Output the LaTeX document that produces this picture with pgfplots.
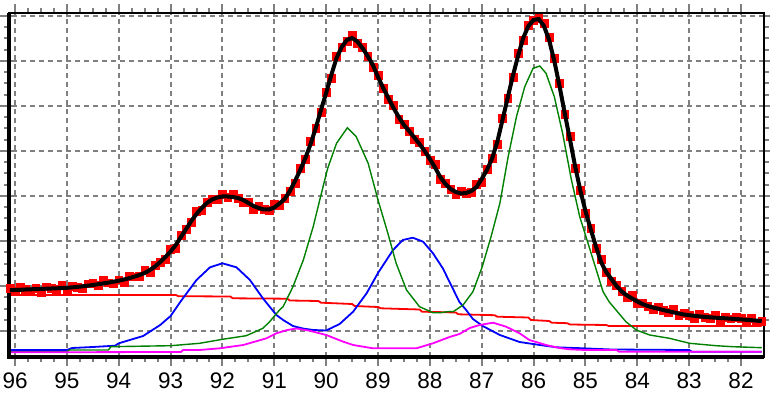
\documentclass[border=0pt]{standalone}
\usepackage{pgfplots}
\pgfplotsset{compat=1.18}
\usepackage{fontspec}
\setmainfont{Liberation Sans}
\definecolor{cblue}{RGB}{0,0,255}
\definecolor{cgreen}{RGB}{0,128,0}
\definecolor{cmag}{RGB}{255,0,255}
\definecolor{cred}{RGB}{255,0,0}
\definecolor{cgrid}{RGB}{128,128,128}
\begin{document}
\begin{tikzpicture}
\begin{axis}[
  set layers,
  scale only axis, width=754.5pt, height=343.7pt,
  at={(0,0)}, anchor=south west,
  x dir=reverse, xmin=81.566, xmax=96.116,
  ymin=19, ymax=362.7,
  xtick={82,83,...,96}, minor x tick num=3,
  ytick={45,90,...,360}, minor y tick num=3, yticklabels={},
  grid=major,
  major grid style={cgrid, line width=2pt, dash pattern=on 5pt off 4pt},
  tick align=outside, major tick length=9pt, minor tick length=5pt,
  tick style={cgrid, line width=2pt},
  /pgf/number format/assume math mode=true,
  xticklabel style={font=\fontsize{22.5}{24}\selectfont, text=black, yshift=-3pt},
  axis line style={line width=2pt, black},
  clip=false,
]
% measured data
\addplot[only marks, mark=square*, mark size=3.9pt, cred, mark options={draw=cred, fill=cred}] coordinates {
(96.1,88)(96.0,85)(95.9,89)(95.8,86.5)(95.7,84.7)(95.6,88)(95.5,84)(95.4,89.3)(95.3,87.5)(95.2,86.7)
(95.1,91)(95.0,86.2)(94.9,89.6)(94.8,89.1)(94.7,87.7)(94.6,92.3)(94.5,93)(94.4,90.8)(94.3,95.6)(94.2,93.4)
(94.1,92.3)(94.0,96.3)(93.9,93.5)(93.8,99.8)(93.7,99.3)(93.6,100)(93.5,106)(93.4,104)(93.3,110.5)(93.2,114)
(93.1,117)(93.0,126.5)(92.9,128)(92.8,141)(92.7,147)(92.6,154)(92.5,165)(92.4,166)(92.3,174)(92.2,176.5)
(92.1,176.5)(92.0,181.5)(91.9,178.5)(91.8,182)(91.7,178)(91.6,174)(91.5,174)(91.4,167)(91.3,170)(91.2,166.5)
(91.1,165.5)(91.0,171.5)(90.9,170.5)(90.8,178)(90.7,185)(90.6,193)(90.5,208)(90.4,217)(90.3,235)(90.2,248)
(90.1,264)(90.0,284)(89.9,298)(89.8,320)(89.7,329)(89.6,335)(89.5,341)(89.4,332.5)(89.3,329)(89.2,320)
(89.1,309)(89.0,301)(88.9,288)(88.8,277)(88.7,271)(88.6,257)(88.5,252)(88.4,245)(88.3,236.5)(88.2,234)
(88.1,225)(88.0,216)(87.9,211.5)(87.8,197)(87.7,193)(87.6,187)(87.5,182)(87.4,184.5)(87.3,183)(87.2,184)
(87.1,192)(87.0,194)(86.9,207)(86.8,217.5)(86.7,232)(86.6,258)(86.5,278)(86.4,299)(86.3,323)(86.2,336)
(86.1,351)(86.0,356)(85.9,358)(85.8,353)(85.7,339)(85.6,318)(85.5,293)(85.4,262)(85.3,240)(85.2,208)
(85.1,186)(85.0,163)(84.9,148)(84.8,128)(84.7,117)(84.6,104)(84.5,95)(84.4,91)(84.3,84.5)(84.2,78.5)
(84.1,80.5)(84.0,72.5)(83.9,73)(83.8,70)(83.7,66.5)(83.6,69.3)(83.5,66)(83.4,63.8)(83.3,66.6)(83.2,60.5)
(83.1,62.5)(83.0,60.8)(82.9,58.2)(82.8,61.6)(82.7,59.1)(82.6,57.7)(82.5,61.3)(82.4,56)(82.3,58.7)(82.2,57.3)
(82.1,59)(82.0,58)(81.9,55.2)(81.8,57.8)(81.7,53.4)(81.6,55)
};
% baseline
\addplot[cred, line width=1.8pt] coordinates {
(96.1,81)(92.9,81)(92.85,79.8)(91.85,79.5)(91.8,77.7)(90.75,77.3)(90.7,75.5)(90.15,75)(90.1,73.3)
(89.5,72)(89.45,70)(89.0,69)(88.95,67.7)(88.2,66.5)(88.15,64.3)(87.5,63.5)(87.45,61.7)(86.75,60.8)
(86.7,59.3)(86.1,58.5)(86.05,56)(85.7,55)(85.65,53.3)(85.35,52.8)(85.3,51.5)(84.6,51)(84.55,50)(81.6,50)
};
% blue component
\addplot[cblue, line width=1.8pt] coordinates {
(96.1,26)(95.0,26)(94.9,28)(94.5,29)(94.07,30.3)(94.0,32.7)(93.53,40)(93.2,51)(93.0,60)(92.8,75)
(92.5,96)(92.24,108.7)(92.0,112.7)(91.73,108.7)(91.47,96)(91.22,77.7)(90.96,61)(90.83,56)(90.64,50)
(90.45,47.5)(90.25,46)(90.0,45.5)(89.74,52)(89.48,64.3)(89.22,82.7)(89.0,103)(88.71,126)(88.52,136)
(88.33,138.3)(88.13,134.3)(87.94,122.7)(87.75,107.7)(87.62,94)(87.43,74)(87.3,66)(87.17,57)(86.98,50)
(86.65,41)(86.27,34)(85.88,31)(85.56,28.7)(85.04,27.7)(84.5,26.5)(83.0,26)(82.95,24.3)(81.6,24.3)
};
% green component
\addplot[cgreen, line width=1.4pt] coordinates {
(96.1,24.3)(95.0,24.3)(94.95,26)(94.2,26)(94.15,29.3)(93.0,30.3)(92.44,32.7)(92.0,36.7)(91.54,40.3)
(91.22,47.7)(91.09,54.3)(90.9,66)(90.83,69.3)(90.64,89.3)(90.44,116)(90.25,149.3)(90.06,189.3)
(89.97,207.7)(89.8,232.7)(89.59,248.3)(89.42,239.3)(89.19,212.7)(89.0,176)(88.81,142.7)(88.65,112.7)
(88.45,86)(88.2,69.3)(87.94,63.3)(87.81,63.3)(87.62,64.5)(87.55,64.3)(87.36,71)(87.17,84.3)(86.99,109.3)
(86.82,139.3)(86.65,172.7)(86.49,219.3)(86.33,259.3)(86.17,289.3)(86.01,307.7)(85.88,310)(85.76,302.7)
(85.6,279.3)(85.44,242.7)(85.27,196)(85.11,159.3)(84.95,132.7)(84.79,106)(84.66,84.3)(84.54,74)
(84.41,66)(84.22,54.3)(84.02,46)(83.76,41)(83.38,37.7)(82.99,32.7)(82.48,30.3)(82.16,29.3)(81.6,28.3)
};
% magenta component
\addplot[cmag, line width=1.8pt] coordinates {
(96.1,23.7)(92.8,24)(92.76,26)(92.44,26)(92.05,27.7)(91.6,31)(91.15,37.7)(90.96,42.7)(90.75,46)
(90.57,47.5)(90.32,45.3)(90.0,41)(89.67,34.3)(89.48,31)(89.1,27.7)(88.26,27.7)(87.94,32.7)(87.62,39)
(87.43,42)(87.23,48)(87.04,51)(86.78,53.3)(86.53,49.3)(86.27,42.7)(86.08,36)(85.76,31)(85.5,28)
(85.31,26.7)(85.0,26)(84.4,26)(84.35,24.3)(81.6,24.3)
};
% fit envelope
\addplot[black, line width=4pt, on layer=axis foreground] coordinates {
(96.1,86)(96.0,86)(95.9,86.2)(95.8,86.5)(95.7,86.7)(95.6,86.9)(95.5,87.1)(95.4,87.3)(95.3,87.5)(95.2,87.7)
(95.1,87.9)(95.0,88.2)(94.9,88.6)(94.8,89.1)(94.7,89.7)(94.6,90.3)(94.5,91.0)(94.4,91.8)(94.3,92.6)(94.2,93.4)
(94.1,94.3)(94.0,95.3)(93.9,96.5)(93.8,97.8)(93.7,99.3)(93.6,101)(93.5,103)(93.4,106)(93.3,109.5)(93.2,114)
(93.1,119)(93.0,124.5)(92.9,131)(92.8,139)(92.7,147)(92.6,155)(92.5,162)(92.4,168)(92.3,173)(92.2,176.5)
(92.1,178.5)(92.0,179.5)(91.9,179.5)(91.8,179)(91.7,178)(91.6,176)(91.5,173)(91.4,170)(91.3,168)(91.2,166.5)
(91.1,166.5)(91.0,168.5)(90.9,172.5)(90.8,177)(90.7,185)(90.6,195)(90.5,206)(90.4,218)(90.3,232)(90.2,248)
(90.1,266)(90.0,283)(89.9,301)(89.8,318)(89.7,329)(89.6,336)(89.5,338)(89.4,334.5)(89.3,328)(89.2,320)
(89.1,311)(89.0,299)(88.9,288)(88.8,278)(88.7,268)(88.6,259)(88.5,251)(88.4,245)(88.3,238.5)(88.2,232)
(88.1,225)(88.0,217)(87.9,208.5)(87.8,199)(87.7,192)(87.6,187)(87.5,184)(87.4,182.5)(87.3,183)(87.2,185)
(87.1,189)(87.0,197)(86.9,206)(86.8,217.5)(86.7,234)(86.6,256)(86.5,278)(86.4,300)(86.3,320)(86.2,338)
(86.1,350)(86.0,356)(85.9,357)(85.8,350)(85.7,336)(85.6,315)(85.5,290)(85.4,263)(85.3,237)(85.2,210)
(85.1,186)(85.0,165)(84.9,147)(84.8,130)(84.7,114)(84.6,104)(84.5,97)(84.4,90)(84.3,84.5)(84.2,80.5)
(84.1,77.5)(84.0,74.5)(83.9,72)(83.8,70)(83.7,68.5)(83.6,67.3)(83.5,66)(83.4,64.8)(83.3,63.6)(83.2,62.5)
(83.1,61.5)(83.0,60.8)(82.9,60.2)(82.8,59.6)(82.7,59.1)(82.6,58.7)(82.5,58.3)(82.4,58)(82.3,57.7)(82.2,57.3)
(82.1,57)(82.0,56.6)(81.9,56.2)(81.8,55.8)(81.7,55.4)(81.6,55)
};
\draw[line width=4pt, black] (rel axis cs:0,1) -- (rel axis cs:0,0) -- (rel axis cs:1,0);
\end{axis}
\pgfresetboundingbox
\path[use as bounding box] (-9pt,-42pt) rectangle (761pt,357pt);
\end{tikzpicture}
\end{document}
